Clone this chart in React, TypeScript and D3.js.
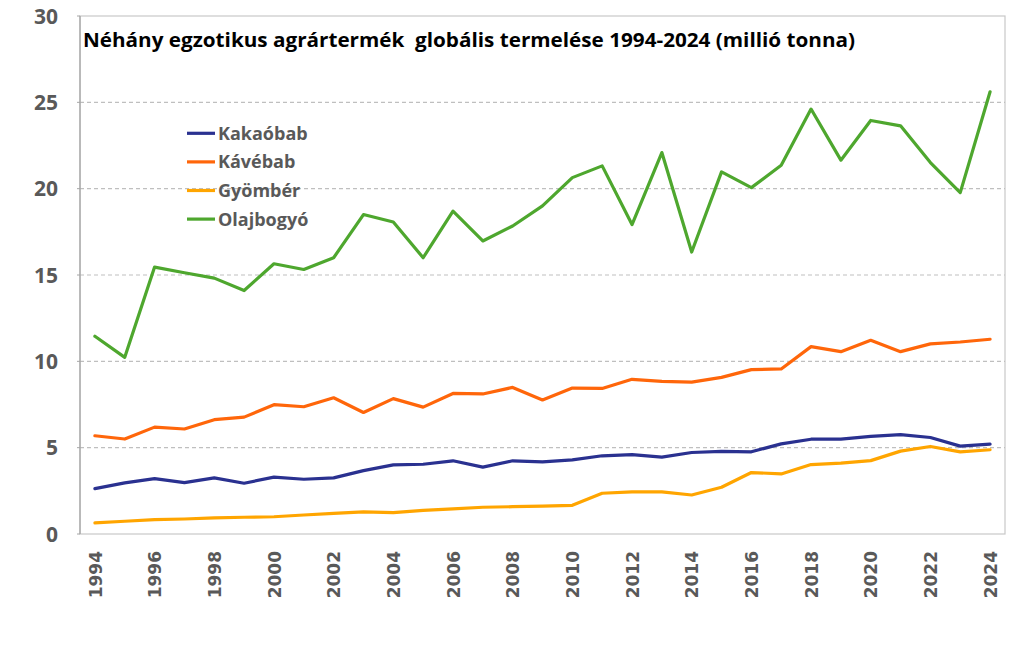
import * as d3 from "d3";

const years = d3.range(1994, 2025).map(String);
const yTicks = [0, 5, 10, 15, 20, 25, 30];
const xLabels = years.filter((_, i) => i % 2 === 0);

const kakaobab = [
  2.63, 2.96, 3.21, 2.98, 3.25, 2.94, 3.29, 3.17, 3.25, 3.67, 4.0,
  4.04, 4.24, 3.87, 4.24, 4.18, 4.29, 4.53, 4.6, 4.45, 4.72,
  4.78, 4.76, 5.22, 5.49, 5.49, 5.65, 5.75, 5.59, 5.09, 5.2,
];
const kavebab = [
  5.69, 5.5, 6.19, 6.08, 6.62, 6.77, 7.49, 7.37, 7.89, 7.04, 7.84,
  7.35, 8.14, 8.11, 8.49, 7.76, 8.45, 8.43, 8.96, 8.84, 8.8,
  9.07, 9.52, 9.56, 10.85, 10.56, 11.22, 10.56, 11.01, 11.12, 11.28,
];
const gyomber = [
  0.64, 0.74, 0.83, 0.87, 0.93, 0.97, 1.0, 1.1, 1.2, 1.28, 1.24,
  1.37, 1.45, 1.55, 1.58, 1.62, 1.66, 2.36, 2.44, 2.44, 2.26,
  2.71, 3.56, 3.48, 4.02, 4.1, 4.25, 4.8, 5.07, 4.76, 4.88,
];
const olajbogyo = [
  11.45, 10.23, 15.46, 15.13, 14.82, 14.1, 15.65, 15.32, 16.0, 18.5, 18.07,
  16.0, 18.7, 16.97, 17.84, 19.0, 20.64, 21.32, 17.92, 22.09, 16.33,
  20.97, 20.06, 21.36, 24.61, 21.65, 23.95, 23.64, 21.51, 19.77, 25.61,
];

const series = [
  { name: "Kakaóbab", values: kakaobab, color: "#2A3190" },
  { name: "Kávébab", values: kavebab, color: "#FF660A" },
  { name: "Gyömbér", values: gyomber, color: "#FFA500" },
  { name: "Olajbogyó", values: olajbogyo, color: "#4EA72E" },
];

const title = "Néhány egzotikus agrártermék  globális termelése 1994-2024 (millió tonna)";

export default function App() {
  const width = 1010;
  const height = 660;
  const plot = { left: 80, right: 1005, top: 16, bottom: 534 };

  const x = d3.scalePoint<string>().domain(years).range([plot.left, plot.right]).padding(0.5);
  const y = d3.scaleLinear().domain([0, 30]).range([plot.bottom, plot.top]);

  const line = d3
    .line<number>()
    .x((_, i) => x(years[i]) as number)
    .y((d) => y(d));

  const labelFont = "'Open Sans', 'Liberation Sans', sans-serif";

  return (
    <svg
      width={width}
      height={height}
      style={{ position: "absolute", left: 0, top: 0, background: "#fff" }}
    >
      {/* plot frame */}
      <rect
        x={plot.left}
        y={plot.top}
        width={plot.right - plot.left}
        height={plot.bottom - plot.top}
        fill="none"
        stroke="#C8C8C8"
        strokeWidth={1.2}
      />

      {/* dashed gridlines */}
      {yTicks
        .filter((t) => t > 0 && t < 30)
        .map((t) => (
          <line
            key={`g-${t}`}
            x1={plot.left}
            x2={plot.right}
            y1={y(t)}
            y2={y(t)}
            stroke="#BFBFBF"
            strokeWidth={1.2}
            strokeDasharray="4 3"
          />
        ))}

      <line x1={plot.left} x2={plot.left} y1={plot.top} y2={plot.bottom} stroke="#A6A6A6" strokeWidth={1.3} />

      {/* y axis ticks and labels */}
      {yTicks.map((t) => (
        <g key={`y-${t}`}>
          <line x1={plot.left - 3} x2={plot.left} y1={y(t)} y2={y(t)} stroke="#A6A6A6" />
          <text
            x={58}
            y={y(t)}
            dy="0.36em"
            textAnchor="end"
            fontFamily={labelFont}
            fontWeight={700}
            fontSize={21}
            fill="#595959"
          >
            {t}
          </text>
        </g>
      ))}

      {/* x axis labels */}
      {xLabels.map((yr) => (
        <text
          key={`x-${yr}`}
          transform={`translate(${(x(yr) as number) + 0.5},551) rotate(-90)`}
          dy="0.36em"
          textAnchor="end"
          fontFamily="'DejaVu Sans', sans-serif"
          fontWeight={700}
          fontSize={17}
          fill="#595959"
        >
          {yr}
        </text>
      ))}

      {/* series */}
      {series.map((s) => (
        <path
          key={s.name}
          d={line(s.values) ?? ""}
          fill="none"
          stroke={s.color}
          strokeWidth={3.2}
          strokeLinejoin="round"
          strokeLinecap="round"
        />
      ))}

      {/* legend */}
      {series.map((s, i) => {
        const ly = 133.3 + i * 28.6;
        return (
          <g key={`l-${s.name}`}>
            <line x1={187} x2={215} y1={ly} y2={ly} stroke={s.color} strokeWidth={3.2} />
            <text
              x={218}
              y={ly}
              dy="0.36em"
              fontFamily={labelFont}
              fontWeight={700}
              fontSize={18}
              fill="#595959"
            >
              {s.name}
            </text>
          </g>
        );
      })}

      <text
        x={83}
        y={47}
        fontFamily={labelFont}
        fontWeight={700}
        fontSize={19.5}
        fill="#000"
        textLength={772}
        lengthAdjust="spacingAndGlyphs"
        style={{ whiteSpace: "pre" }}
      >
        {title}
      </text>
    </svg>
  );
}
